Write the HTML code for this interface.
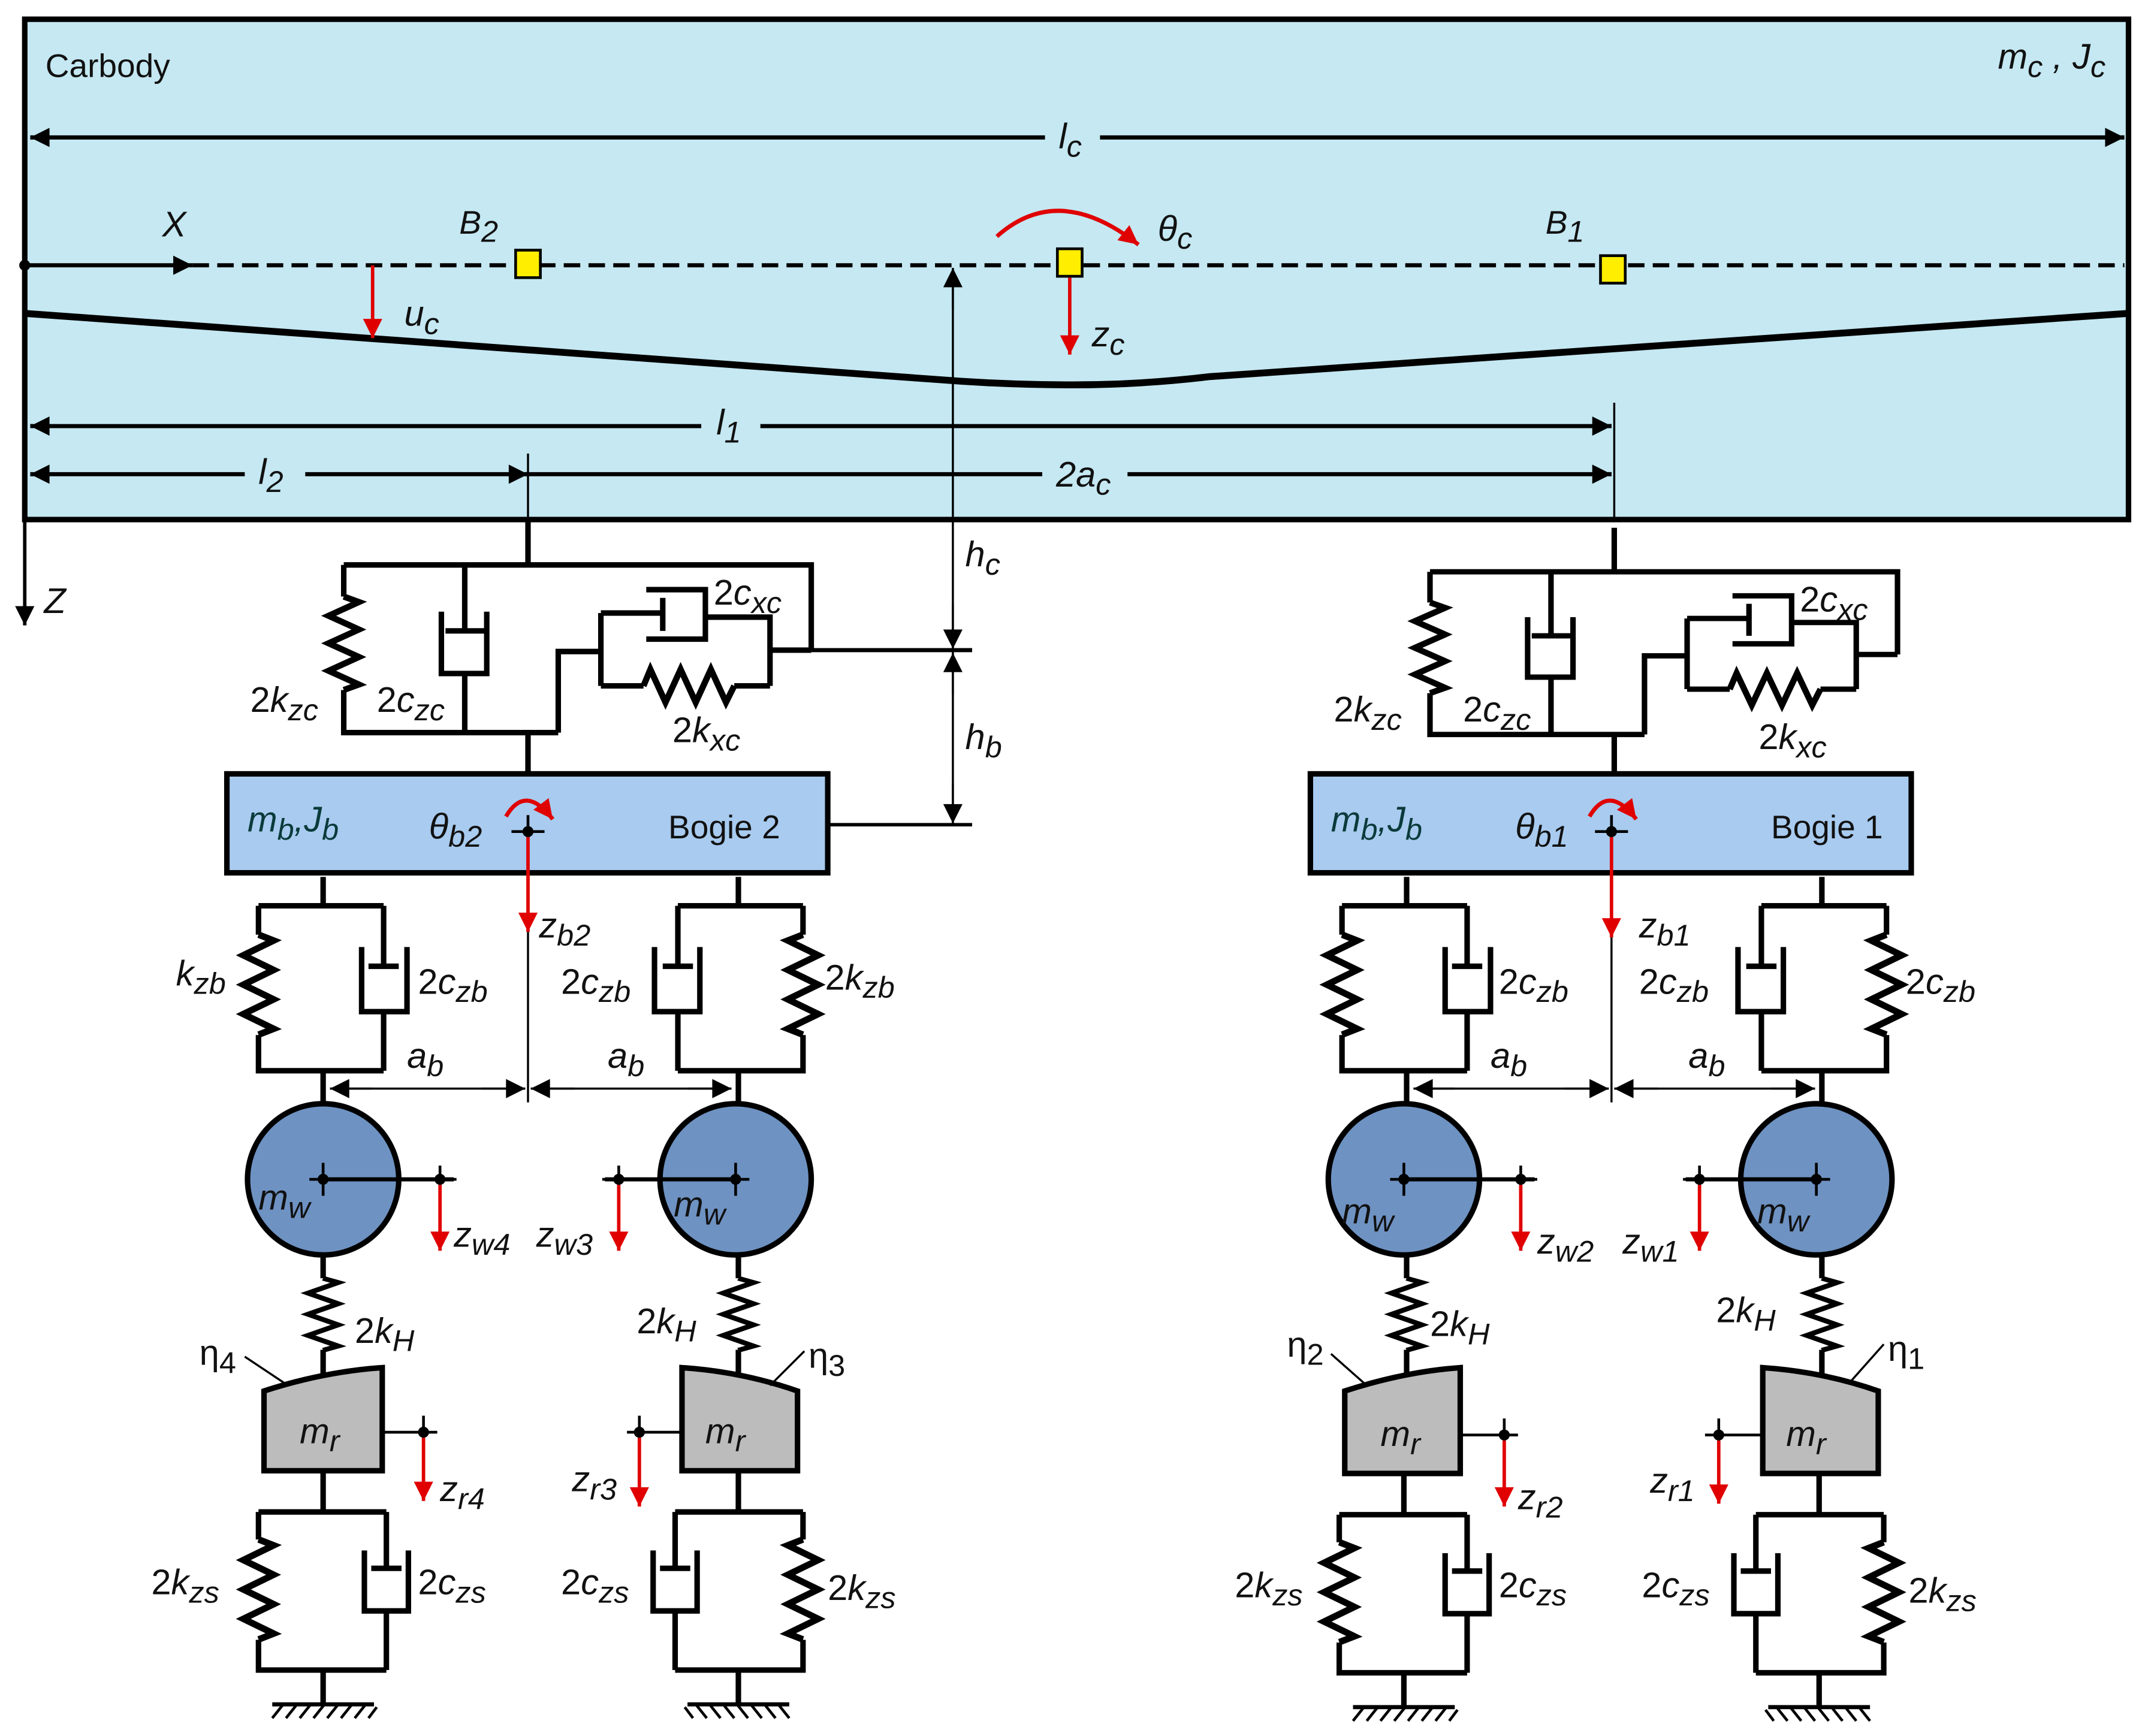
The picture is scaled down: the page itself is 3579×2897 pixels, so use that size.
<!DOCTYPE html>
<html><head><meta charset="utf-8"><style>
html,body{margin:0;padding:0;background:#fff;}
svg{display:block}
text{font-family:"Liberation Sans",sans-serif;font-size:26px;fill:#111}
.i{font-style:italic}
.s{font-size:22px}
</style></head><body>
<svg width="3579" height="2897" viewBox="0 0 1560 1263" preserveAspectRatio="none" xmlns="http://www.w3.org/2000/svg">
<defs>
<marker id="ab" viewBox="0 0 10 10" refX="10" refY="5" markerWidth="26" markerHeight="14" markerUnits="userSpaceOnUse" orient="auto-start-reverse"><path d="M0,0 L10,5 L0,10z" fill="#000"/></marker>
<marker id="rr" viewBox="0 0 10 10" refX="10" refY="5" markerWidth="26" markerHeight="14" markerUnits="userSpaceOnUse" orient="auto"><path d="M0,0 L10,5 L0,10z" fill="#e00000"/></marker>
<path id="sp" d="M0,0 l11,4 l-22,10 l22,10 l-22,10 l22,10 l-22,10 l22,10 l-11,4" fill="none" stroke="#000" stroke-width="4.5" stroke-linejoin="miter"/>
<g id="prim" fill="none" stroke="#000" stroke-width="4">
<path d="M0,0 v21 M-47,21 h91 M-47,21 v21 M-47,115 v26 h91 M44,21 v44 M33,65 h22 M28,51 v47 h33 v-47 M44,98 v43 M0,141 v28"/>
<use href="#sp" transform="translate(-47,42) scale(1,1.07)"/>
</g>
<g id="low" fill="none" stroke="#000" stroke-width="4">
<path d="M0,0 v30 M-47,30 h93 M-47,30 v20 M-47,123 v22 h93 M46,30 v41 M35,71 h22 M30,58 v44 h32 v-44 M46,102 v43 M0,145 v25"/>
<use href="#sp" transform="translate(-47,50) scale(1,1.07)"/>
<path d="M-37,170 h74" stroke-width="3"/>
<path d="M-37,180 l8,-10 M-27,180 l8,-10 M-17,180 l8,-10 M-7,180 l8,-10 M3,180 l8,-10 M13,180 l8,-10 M23,180 l8,-10 M33,180 l6,-8" stroke-width="2"/>
</g>
<g id="sec" fill="none" stroke="#000" stroke-width="4">
<path d="M0,0 v33 M-134,33 h340 v62 M-134,33 v23 M-134,124 v31 h156 M-46,33 v48 M-60,81 h28 M-63,67 v45 h33 v-45 M-46,112 v43 M0,155 v30 M22,155 v-59 h31 M53,68 v53 M53,68 h45 M98,57 v24 M86,51 h43 v36 h-43 M129,71 h47 v50 M53,121 h31 M150,121 h26 M176,95 h30"/>
<path d="M84,121 l5,-12 l11,24 l11,-24 l11,24 l11,-24 l11,24 l6,-12" fill="none" stroke="#000" stroke-width="4.5"/>
<use href="#sp" transform="translate(-134,56)"/>
</g>
<g id="wheelL">
<circle cx="0" cy="0" r="55" fill="#6e92c2" stroke="#000" stroke-width="4"/>
<path d="M0,0 h95" stroke="#000" stroke-width="3"/>
<path d="M0,-12 v24 M-10,0 h20 M85,-10 v20 M77,0 h20" stroke="#000" stroke-width="2"/>
<circle cx="0" cy="0" r="4"/><circle cx="85" cy="0" r="4"/>
<path d="M85,4 v48" stroke="#e00000" stroke-width="2.5" marker-end="url(#rr)"/>
</g>
</defs>

<rect x="18" y="14" width="1530" height="364" fill="#c5e8f2" stroke="#000" stroke-width="4"/>
<text x="33" y="56" style="font-size:24px">Carbody</text>
<text x="1453" y="50" class="i">m<tspan class="s" dy="6">c</tspan><tspan dy="-6"> , J</tspan><tspan class="s" dy="6">c</tspan></text>
<path d="M22,100 H760 M800,100 H1545" stroke="#000" stroke-width="3"/>
<path d="M22,100 h2" stroke="#000" stroke-width="3" marker-start="url(#ab)"/>
<path d="M1543,100 h2" stroke="#000" stroke-width="3" marker-end="url(#ab)"/>
<text x="770" y="108" class="i">l<tspan class="s" dy="6">c</tspan></text>
<path d="M140,193 H1545" stroke="#000" stroke-width="3" stroke-dasharray="12,6"/>
<path d="M18,193 H140" stroke="#000" stroke-width="3" marker-end="url(#ab)"/>
<circle cx="18" cy="193" r="4"/>
<text x="118" y="172" class="i">X</text>
<path d="M18,228 L680,276 Q730,280 780,280 Q830,280 880,274 L1548,228" fill="none" stroke="#000" stroke-width="5"/>
<rect x="375" y="182" width="18" height="20" fill="#ffee00" stroke="#000" stroke-width="2"/>
<rect x="769" y="181" width="18" height="20" fill="#ffee00" stroke="#000" stroke-width="2"/>
<rect x="1164" y="186" width="18" height="20" fill="#ffee00" stroke="#000" stroke-width="2"/>
<text x="334" y="170" class="i" style="font-size:24px">B<tspan class="s" dy="6">2</tspan></text>
<text x="1124" y="170" class="i" style="font-size:24px">B<tspan class="s" dy="6">1</tspan></text>
<path d="M725,172 Q770,132 828,178" fill="none" stroke="#e00000" stroke-width="3" marker-end="url(#rr)"/>
<text x="842" y="175" class="i">θ<tspan class="s" dy="6">c</tspan></text>
<path d="M271,193 V246" stroke="#e00000" stroke-width="2.5" marker-end="url(#rr)"/>
<text x="294" y="237" class="i">u<tspan class="s" dy="6">c</tspan></text>
<path d="M778,202 V258" stroke="#e00000" stroke-width="2.5" marker-end="url(#rr)"/>
<text x="794" y="252" class="i">z<tspan class="s" dy="6">c</tspan></text>
<path d="M22,310 H510 M553,310 H1172" stroke="#000" stroke-width="3"/>
<path d="M22,310 h2" stroke="#000" stroke-width="3" marker-start="url(#ab)"/>
<path d="M1170,310 h2" stroke="#000" stroke-width="3" marker-end="url(#ab)"/>
<text x="521" y="316" class="i">l<tspan class="s" dy="6">1</tspan></text>
<path d="M22,345 H178 M222,345 H384 M384,345 H758 M820,345 H1172" stroke="#000" stroke-width="3"/>
<path d="M22,345 h2" stroke="#000" stroke-width="3" marker-start="url(#ab)"/>
<path d="M382,345 h2" stroke="#000" stroke-width="3" marker-end="url(#ab)"/>
<path d="M1170,345 h2" stroke="#000" stroke-width="3" marker-end="url(#ab)"/>
<text x="188" y="352" class="i">l<tspan class="s" dy="6">2</tspan></text>
<text x="768" y="354" class="i">2a<tspan class="s" dy="6">c</tspan></text>
<path d="M384,330 V378 M1174,293 V378" stroke="#000" stroke-width="1.5"/>
<path d="M693,195 V600" stroke="#000" stroke-width="1.5"/>
<path d="M693,225 V195" stroke="#000" stroke-width="1.5" marker-end="url(#ab)"/>
<path d="M693,440 V472" stroke="#000" stroke-width="1.5" marker-end="url(#ab)"/>
<path d="M693,505 V475" stroke="#000" stroke-width="1.5" marker-end="url(#ab)"/>
<path d="M693,570 V599" stroke="#000" stroke-width="1.5" marker-end="url(#ab)"/>
<path d="M680,473 H707" stroke="#000" stroke-width="2"/>
<text x="702" y="412" class="i">h<tspan class="s" dy="6">c</tspan></text>
<text x="702" y="545" class="i">h<tspan class="s" dy="6">b</tspan></text>
<path d="M18,378 V455" stroke="#000" stroke-width="2.5" marker-end="url(#ab)"/>
<text x="32" y="446" class="i">Z</text>

<use href="#sec" transform="translate(384,378)"/>
<path d="M590,473 H707" stroke="#000" stroke-width="3"/>
<text x="182" y="518">2<tspan class="i">k</tspan><tspan class="s i" dy="6">zc</tspan></text>
<text x="274" y="518">2<tspan class="i">c</tspan><tspan class="s i" dy="6">zc</tspan></text>
<text x="519" y="440">2<tspan class="i">c</tspan><tspan class="s i" dy="6">xc</tspan></text>
<text x="489" y="540">2<tspan class="i">k</tspan><tspan class="s i" dy="6">xc</tspan></text>
<rect x="165" y="563" width="437" height="72" fill="#a8cbef" stroke="#000" stroke-width="4"/>
<path d="M602,600 H707" stroke="#000" stroke-width="2.5"/>
<text x="180" y="605" class="i" style="fill:#0a3a3a">m<tspan class="s" dy="6">b</tspan><tspan dy="-6">,J</tspan><tspan class="s" dy="6">b</tspan></text>
<text x="312" y="610" class="i">θ<tspan class="s" dy="6">b2</tspan></text>
<text x="486" y="610" style="font-size:24px">Bogie 2</text>
<path d="M368,594 Q382,570 402,596" fill="none" stroke="#e00000" stroke-width="3" marker-end="url(#rr)"/>
<path d="M384,593 v24 M372,605 h24" stroke="#000" stroke-width="2"/><circle cx="384" cy="605" r="4"/>
<path d="M384,609 V678" stroke="#e00000" stroke-width="2.5" marker-end="url(#rr)"/>
<path d="M384,678 V802" stroke="#000" stroke-width="1.5"/>
<text x="392" y="682" class="i">z<tspan class="s" dy="6">b2</tspan></text>
<use href="#prim" transform="translate(235,638)"/>
<use href="#prim" transform="translate(537,638) scale(-1,1)"/>
<text x="128" y="717" class="i">k<tspan class="s" dy="6">zb</tspan></text>
<text x="304" y="723">2<tspan class="i">c</tspan><tspan class="s i" dy="6">zb</tspan></text>
<text x="408" y="723">2<tspan class="i">c</tspan><tspan class="s i" dy="6">zb</tspan></text>
<text x="600" y="720">2<tspan class="i">k</tspan><tspan class="s i" dy="6">zb</tspan></text>
<path d="M240,792 H382 M386,792 H532" stroke="#000" stroke-width="1.5"/>
<path d="M270,792 H240" stroke="#000" stroke-width="1.5" marker-end="url(#ab)"/>
<path d="M350,792 H382" stroke="#000" stroke-width="1.5" marker-end="url(#ab)"/>
<path d="M418,792 H386" stroke="#000" stroke-width="1.5" marker-end="url(#ab)"/>
<path d="M500,792 H532" stroke="#000" stroke-width="1.5" marker-end="url(#ab)"/>
<text x="296" y="777" class="i">a<tspan class="s" dy="6">b</tspan></text>
<text x="442" y="777" class="i">a<tspan class="s" dy="6">b</tspan></text>
<use href="#wheelL" transform="translate(235,858)"/>
<use href="#wheelL" transform="translate(535,858) scale(-1,1)"/>
<text x="188" y="880" class="i">m<tspan class="s" dy="6">w</tspan></text>
<text x="490" y="885" class="i">m<tspan class="s" dy="6">w</tspan></text>
<text x="330" y="907" class="i">z<tspan class="s" dy="6">w4</tspan></text>
<text x="390" y="907" class="i">z<tspan class="s" dy="6">w3</tspan></text>
<g fill="none" stroke="#000" stroke-width="4">
<path d="M235,913 V930 M235,982 V1000 M537,913 V930 M537,982 V1000"/>
<use href="#sp" transform="translate(235,930) scale(1,0.77)"/>
<use href="#sp" transform="translate(537,930) scale(1,0.77)"/>
</g>
<text x="258" y="977">2<tspan class="i">k</tspan><tspan class="s i" dy="6">H</tspan></text>
<text x="463" y="970">2<tspan class="i">k</tspan><tspan class="s i" dy="6">H</tspan></text>
<path d="M192,1012 Q235,998 278,995 V1070 H192Z" fill="#bcbcbc" stroke="#000" stroke-width="4"/>
<path d="M496,995 Q540,998 580,1012 V1070 H496Z" fill="#bcbcbc" stroke="#000" stroke-width="4"/>
<text x="218" y="1050" class="i">m<tspan class="s" dy="6">r</tspan></text>
<text x="513" y="1050" class="i">m<tspan class="s" dy="6">r</tspan></text>
<path d="M178,987 L208,1007 M585,983 L560,1008" stroke="#000" stroke-width="1.5"/>
<text x="145" y="993">η<tspan class="s" dy="6">4</tspan></text>
<text x="588" y="995">η<tspan class="s" dy="6">3</tspan></text>
<path d="M278,1042 H318 M496,1042 H456 M308,1030 v20 M465,1030 v20" stroke="#000" stroke-width="2"/>
<circle cx="308" cy="1042" r="4"/><circle cx="465" cy="1042" r="4"/>
<path d="M308,1046 V1092" stroke="#e00000" stroke-width="2.5" marker-end="url(#rr)"/>
<path d="M465,1046 V1096" stroke="#e00000" stroke-width="2.5" marker-end="url(#rr)"/>
<text x="320" y="1092" class="i">z<tspan class="s" dy="6">r4</tspan></text>
<text x="416" y="1085" class="i">z<tspan class="s" dy="6">r3</tspan></text>
<use href="#low" transform="translate(235,1070)"/>
<use href="#low" transform="translate(537,1070) scale(-1,1)"/>
<text x="110" y="1160">2<tspan class="i">k</tspan><tspan class="s i" dy="6">zs</tspan></text>
<text x="304" y="1160">2<tspan class="i">c</tspan><tspan class="s i" dy="6">zs</tspan></text>
<text x="408" y="1160">2<tspan class="i">c</tspan><tspan class="s i" dy="6">zs</tspan></text>
<text x="602" y="1164">2<tspan class="i">k</tspan><tspan class="s i" dy="6">zs</tspan></text>

<g transform="translate(788,0)">
<use href="#sec" transform="translate(386,384) scale(1,0.97)"/>
<text x="182" y="525">2<tspan class="i">k</tspan><tspan class="s i" dy="6">zc</tspan></text>
<text x="276" y="525">2<tspan class="i">c</tspan><tspan class="s i" dy="6">zc</tspan></text>
<text x="521" y="445">2<tspan class="i">c</tspan><tspan class="s i" dy="6">xc</tspan></text>
<text x="491" y="545">2<tspan class="i">k</tspan><tspan class="s i" dy="6">xc</tspan></text>
<rect x="165" y="563" width="437" height="72" fill="#a8cbef" stroke="#000" stroke-width="4"/>
<text x="180" y="605" class="i" style="fill:#0a3a3a">m<tspan class="s" dy="6">b</tspan><tspan dy="-6">,J</tspan><tspan class="s" dy="6">b</tspan></text>
<text x="314" y="610" class="i">θ<tspan class="s" dy="6">b1</tspan></text>
<text x="500" y="610" style="font-size:24px">Bogie 1</text>
<path d="M368,594 Q382,570 402,596" fill="none" stroke="#e00000" stroke-width="3" marker-end="url(#rr)"/>
<path d="M384,593 v24 M372,605 h24" stroke="#000" stroke-width="2"/><circle cx="384" cy="605" r="4"/>
<path d="M384,609 V682" stroke="#e00000" stroke-width="2.5" marker-end="url(#rr)"/>
<path d="M384,682 V802" stroke="#000" stroke-width="1.5"/>
<text x="404" y="682" class="i">z<tspan class="s" dy="6">b1</tspan></text>
<use href="#prim" transform="translate(235,638)"/>
<use href="#prim" transform="translate(537,638) scale(-1,1)"/>
<text x="302" y="723">2<tspan class="i">c</tspan><tspan class="s i" dy="6">zb</tspan></text>
<text x="404" y="723">2<tspan class="i">c</tspan><tspan class="s i" dy="6">zb</tspan></text>
<text x="598" y="723">2<tspan class="i">c</tspan><tspan class="s i" dy="6">zb</tspan></text>
<path d="M240,792 H382 M386,792 H532" stroke="#000" stroke-width="1.5"/>
<path d="M270,792 H240" stroke="#000" stroke-width="1.5" marker-end="url(#ab)"/>
<path d="M350,792 H382" stroke="#000" stroke-width="1.5" marker-end="url(#ab)"/>
<path d="M418,792 H386" stroke="#000" stroke-width="1.5" marker-end="url(#ab)"/>
<path d="M500,792 H532" stroke="#000" stroke-width="1.5" marker-end="url(#ab)"/>
<text x="296" y="777" class="i">a<tspan class="s" dy="6">b</tspan></text>
<text x="440" y="777" class="i">a<tspan class="s" dy="6">b</tspan></text>
<use href="#wheelL" transform="translate(233,858)"/>
<use href="#wheelL" transform="translate(533,858) scale(-1,1)"/>
<text x="188" y="890" class="i">m<tspan class="s" dy="6">w</tspan></text>
<text x="490" y="890" class="i">m<tspan class="s" dy="6">w</tspan></text>
<text x="330" y="912" class="i">z<tspan class="s" dy="6">w2</tspan></text>
<text x="392" y="912" class="i">z<tspan class="s" dy="6">w1</tspan></text>
<g fill="none" stroke="#000" stroke-width="4">
<path d="M235,913 V930 M235,982 V1000 M537,913 V930 M537,982 V1000"/>
<use href="#sp" transform="translate(235,930) scale(1,0.77)"/>
<use href="#sp" transform="translate(537,930) scale(1,0.77)"/>
</g>
<text x="252" y="972">2<tspan class="i">k</tspan><tspan class="s i" dy="6">H</tspan></text>
<text x="460" y="962">2<tspan class="i">k</tspan><tspan class="s i" dy="6">H</tspan></text>
<path d="M190,1012 Q233,998 274,995 V1072 H190Z" fill="#bcbcbc" stroke="#000" stroke-width="4"/>
<path d="M494,995 Q538,998 578,1012 V1072 H494Z" fill="#bcbcbc" stroke="#000" stroke-width="4"/>
<text x="216" y="1052" class="i">m<tspan class="s" dy="6">r</tspan></text>
<text x="511" y="1052" class="i">m<tspan class="s" dy="6">r</tspan></text>
<path d="M180,985 L206,1008 M582,978 L558,1005" stroke="#000" stroke-width="1.5"/>
<text x="148" y="987">η<tspan class="s" dy="6">2</tspan></text>
<text x="585" y="990">η<tspan class="s" dy="6">1</tspan></text>
<path d="M274,1044 H316 M494,1044 H452 M306,1032 v20 M462,1032 v20" stroke="#000" stroke-width="2"/>
<circle cx="306" cy="1044" r="4"/><circle cx="462" cy="1044" r="4"/>
<path d="M306,1048 V1096" stroke="#e00000" stroke-width="2.5" marker-end="url(#rr)"/>
<path d="M462,1048 V1094" stroke="#e00000" stroke-width="2.5" marker-end="url(#rr)"/>
<text x="316" y="1098" class="i">z<tspan class="s" dy="6">r2</tspan></text>
<text x="412" y="1086" class="i">z<tspan class="s" dy="6">r1</tspan></text>
<use href="#low" transform="translate(233,1072)"/>
<use href="#low" transform="translate(535,1072) scale(-1,1)"/>
<text x="110" y="1162">2<tspan class="i">k</tspan><tspan class="s i" dy="6">zs</tspan></text>
<text x="302" y="1162">2<tspan class="i">c</tspan><tspan class="s i" dy="6">zs</tspan></text>
<text x="406" y="1162">2<tspan class="i">c</tspan><tspan class="s i" dy="6">zs</tspan></text>
<text x="600" y="1166">2<tspan class="i">k</tspan><tspan class="s i" dy="6">zs</tspan></text>
</g>
</svg>
</body></html>
